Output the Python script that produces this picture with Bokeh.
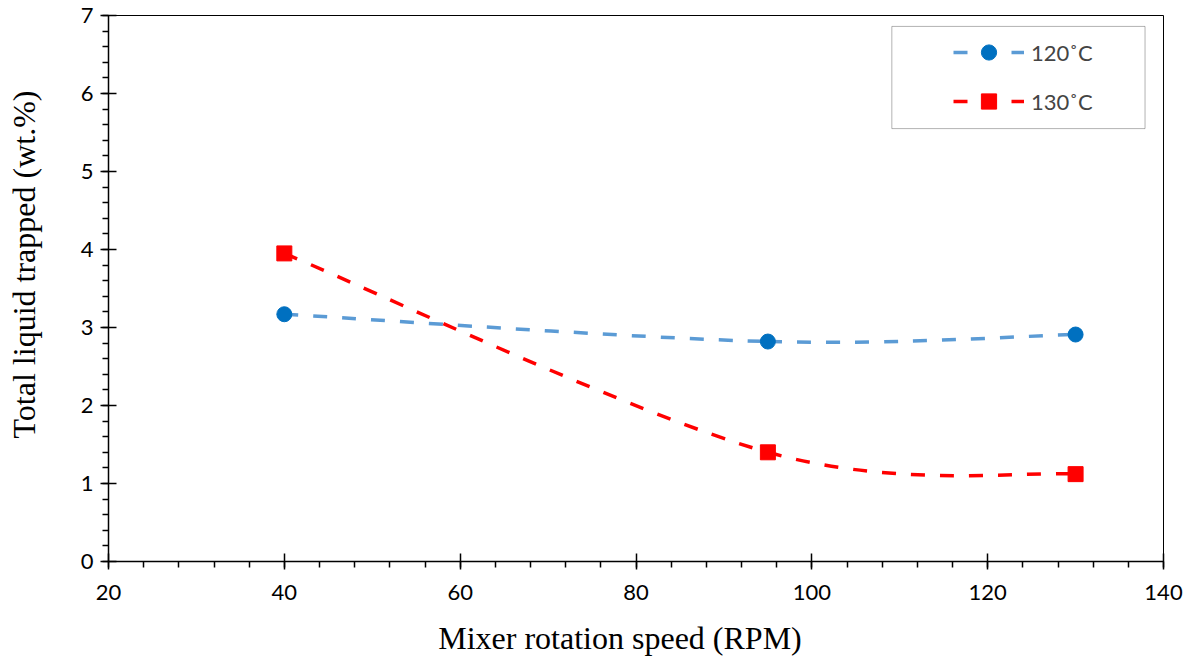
from bokeh.plotting import figure
from bokeh.models import Range1d, Legend, LegendItem, BoxAnnotation, FixedTicker
from bokeh.embed import file_html
from bokeh.resources import INLINE

# ---- data ----
speed = [40, 95, 130]
liquid_120 = [3.17, 2.82, 2.91]
liquid_130 = [3.95, 1.40, 1.12]
x_ticks = [20, 40, 60, 80, 100, 120, 140]
y_ticks = [0, 1, 2, 3, 4, 5, 6, 7]
labels = ["120˚C", "130˚C"]
x_title = "Mixer rotation speed (RPM)"
y_title = "Total liquid trapped (wt.%)"

NBSP = "\u00a0"


def smooth_segments(xs, ys):
    """Bezier control points for a smoothed line through the given points."""
    n = len(xs)
    out = dict(x0=[], y0=[], x1=[], y1=[], cx0=[], cy0=[], cx1=[], cy1=[])
    for i in range(n - 1):
        pm = (xs[max(i - 1, 0)], ys[max(i - 1, 0)])
        p0 = (xs[i], ys[i])
        p1 = (xs[i + 1], ys[i + 1])
        pp = (xs[min(i + 2, n - 1)], ys[min(i + 2, n - 1)])
        out["x0"].append(p0[0]); out["y0"].append(p0[1])
        out["x1"].append(p1[0]); out["y1"].append(p1[1])
        out["cx0"].append(p0[0] + (p1[0] - pm[0]) / 6)
        out["cy0"].append(p0[1] + (p1[1] - pm[1]) / 6)
        out["cx1"].append(p1[0] - (pp[0] - p0[0]) / 6)
        out["cy1"].append(p1[1] - (pp[1] - p0[1]) / 6)
    return out


p = figure(width=1191, height=661, output_backend="svg", toolbar_location=None,
           x_range=Range1d(20, 140), y_range=Range1d(0, 7),
           min_border_left=108, min_border_right=28, min_border_top=15, min_border_bottom=100)
p.background_fill_color = "white"
p.border_fill_color = "white"
p.outline_line_color = "black"
p.outline_line_width = 1
p.grid.visible = False

tick_font = "Lato"
for ax in (p.xaxis[0], p.yaxis[0]):
    ax.axis_line_color = "black"
    ax.axis_line_width = 1.5
    ax.major_tick_line_color = "black"
    ax.major_tick_line_width = 1.5
    ax.minor_tick_line_color = "black"
    ax.minor_tick_line_width = 1.5
    ax.major_tick_in = 8
    ax.major_tick_out = 8
    ax.minor_tick_in = 0
    ax.minor_tick_out = 6
    ax.major_label_text_font = tick_font
    ax.major_label_text_font_size = "22px"
    ax.major_label_text_color = "black"
    ax.axis_label_text_font = "Liberation Serif"
    ax.axis_label_text_font_size = "32px"
    ax.axis_label_text_font_style = "normal"
    ax.axis_label_text_color = "black"

p.xaxis[0].ticker = FixedTicker(ticks=x_ticks, minor_ticks=list(range(20, 141, 4)))
p.yaxis[0].ticker = FixedTicker(ticks=y_ticks, minor_ticks=[i / 5 for i in range(0, 36)])
p.xaxis[0].major_label_standoff = 15
p.yaxis[0].major_label_standoff = 7

# non-breaking spaces only nudge the titles off-centre, as in the original
p.xaxis[0].axis_label = x_title + NBSP * 4
p.xaxis[0].axis_label_standoff = 17
p.yaxis[0].axis_label = NBSP * 6 + y_title
p.yaxis[0].axis_label_standoff = 36

series = [
    (liquid_120, "#5B9BD5", "#0070C0", "circle"),
    (liquid_130, "#FF0000", "#FF0000", "square"),
]
items = []
for (vals, lc, mc, mk), lab in zip(series, labels):
    seg = smooth_segments(speed, vals)
    b = p.bezier(x0="x0", y0="y0", x1="x1", y1="y1", cx0="cx0", cy0="cy0",
                 cx1="cx1", cy1="cy1", source=seg, line_color=lc, line_width=3.5,
                 line_dash="14 15")
    s = p.scatter(speed, vals, marker=mk, size=15, fill_color=mc, line_color=mc)
    items.append(LegendItem(label=lab, renderers=[b, s]))

box = BoxAnnotation(left=109.1, right=137.9, bottom=5.55, top=6.86,
                    fill_alpha=0, line_color="black", line_width=1)
p.add_layout(box)

legend = Legend(items=items, location=(845, 441), padding=0, spacing=11,
                glyph_width=71, glyph_height=38, label_standoff=7,
                label_text_font=tick_font, label_text_font_size="22px",
                border_line_alpha=0, background_fill_alpha=0, margin=0)
p.add_layout(legend, "center")

open("out.html", "w").write(file_html(p, INLINE))
